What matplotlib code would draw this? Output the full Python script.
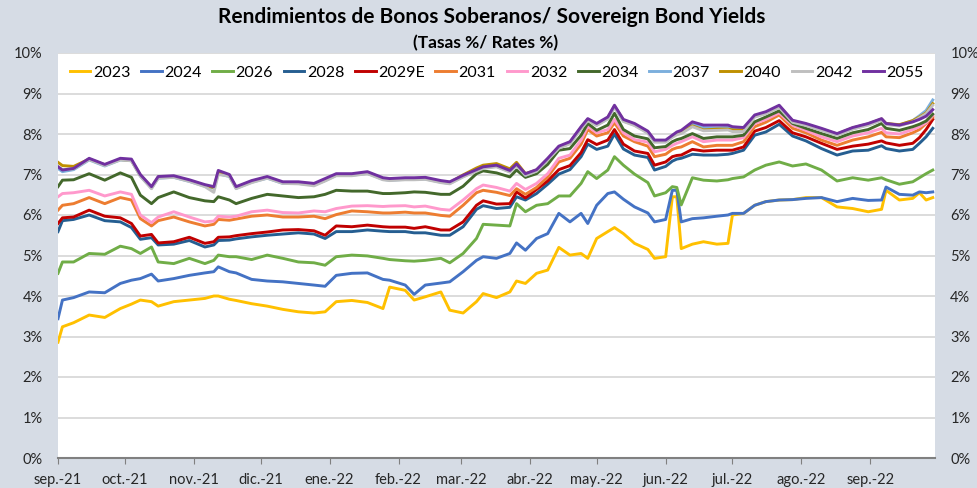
import matplotlib
matplotlib.use('Agg')
import matplotlib.pyplot as plt
import pandas as pd

plt.rcParams['font.family'] = ['Lato', 'DejaVu Sans']

date_strs = [
    '2021-09-01', '2021-09-03', '2021-09-08', '2021-09-15', '2021-09-22', '2021-09-29', '2021-10-04',
    '2021-10-08', '2021-10-13', '2021-10-16', '2021-10-23', '2021-10-30', '2021-11-06', '2021-11-10',
    '2021-11-12', '2021-11-17', '2021-11-20', '2021-11-27', '2021-12-04', '2021-12-11', '2021-12-18',
    '2021-12-25', '2021-12-30',
    '2022-01-04', '2022-01-11', '2022-01-18', '2022-01-25', '2022-01-28', '2022-02-04', '2022-02-08',
    '2022-02-13', '2022-02-20', '2022-02-24', '2022-03-02', '2022-03-08', '2022-03-11', '2022-03-17',
    '2022-03-23', '2022-03-26', '2022-03-30', '2022-04-04', '2022-04-09', '2022-04-14', '2022-04-19',
    '2022-04-24', '2022-04-27', '2022-05-01', '2022-05-06', '2022-05-09', '2022-05-13', '2022-05-18',
    '2022-05-24',
    '2022-05-27', '2022-06-01', '2022-06-04', '2022-06-06', '2022-06-08', '2022-06-13', '2022-06-18',
    '2022-06-24', '2022-06-29', '2022-07-01', '2022-07-06', '2022-07-11', '2022-07-16', '2022-07-22',
    '2022-07-28', '2022-08-03', '2022-08-10', '2022-08-17', '2022-08-24', '2022-08-31', '2022-09-06',
    '2022-09-08', '2022-09-14', '2022-09-20', '2022-09-23', '2022-09-26', '2022-09-29',
]

y2023 = [2.86, 3.24, 3.34, 3.53, 3.47, 3.69, 3.80, 3.90, 3.86, 3.75, 3.86, 3.90, 3.94, 4.00, 4.00, 3.92, 3.89, 3.81, 3.75, 3.67, 3.61, 3.58, 3.61,
         3.86, 3.89, 3.84, 3.69, 4.22, 4.14, 3.90, 3.98, 4.10, 3.65, 3.58, 3.86, 4.06, 3.96, 4.10, 4.37, 4.31, 4.56, 4.64, 5.20, 5.01, 5.05, 4.93, 5.42, 5.59, 5.69, 5.54, 5.30, 5.15,
         4.93, 4.97, 6.45, 6.45, 5.17, 5.28, 5.34, 5.28, 5.30, 6.00, 6.04, 6.24, 6.33, 6.37, 6.38, 6.43, 6.43, 6.20, 6.16, 6.08, 6.14, 6.61, 6.37, 6.41, 6.55, 6.37, 6.43]
y2024 = [3.44, 3.90, 3.96, 4.10, 4.08, 4.31, 4.39, 4.43, 4.54, 4.37, 4.43, 4.51, 4.57, 4.60, 4.72, 4.60, 4.57, 4.41, 4.37, 4.35, 4.31, 4.27, 4.24,
         4.51, 4.56, 4.57, 4.41, 4.39, 4.27, 4.04, 4.27, 4.32, 4.35, 4.60, 4.88, 4.97, 4.93, 5.05, 5.31, 5.13, 5.42, 5.54, 6.04, 5.83, 6.04, 5.79, 6.24, 6.53, 6.57, 6.39, 6.20, 6.05,
         5.83, 5.89, 6.61, 6.61, 5.83, 5.91, 5.93, 5.97, 6.00, 6.04, 6.04, 6.24, 6.33, 6.37, 6.38, 6.41, 6.43, 6.33, 6.41, 6.36, 6.37, 6.69, 6.51, 6.49, 6.57, 6.55, 6.57]
y2026 = [4.56, 4.84, 4.84, 5.05, 5.03, 5.23, 5.17, 5.05, 5.21, 4.84, 4.80, 4.93, 4.80, 4.88, 5.01, 4.97, 4.97, 4.90, 5.01, 4.93, 4.84, 4.82, 4.76,
         4.97, 5.01, 4.99, 4.93, 4.90, 4.87, 4.86, 4.88, 4.93, 4.82, 5.05, 5.42, 5.77, 5.75, 5.73, 6.28, 6.08, 6.24, 6.28, 6.47, 6.47, 6.78, 7.07, 6.90, 7.11, 7.44, 7.23, 7.01, 6.80,
         6.47, 6.55, 6.70, 6.68, 6.25, 6.92, 6.86, 6.84, 6.87, 6.90, 6.94, 7.11, 7.23, 7.31, 7.21, 7.26, 7.11, 6.84, 6.92, 6.86, 6.92, 6.87, 6.76, 6.82, 6.92, 7.02, 7.11]
y2028 = [5.59, 5.86, 5.89, 6.00, 5.86, 5.83, 5.69, 5.40, 5.44, 5.26, 5.28, 5.37, 5.21, 5.26, 5.37, 5.38, 5.41, 5.46, 5.50, 5.53, 5.56, 5.53, 5.42,
         5.59, 5.59, 5.63, 5.60, 5.59, 5.59, 5.56, 5.56, 5.50, 5.50, 5.71, 6.14, 6.23, 6.16, 6.19, 6.45, 6.37, 6.53, 6.76, 7.01, 7.12, 7.44, 7.75, 7.62, 7.70, 8.00, 7.63, 7.48, 7.42,
         7.11, 7.20, 7.33, 7.38, 7.40, 7.50, 7.48, 7.48, 7.50, 7.52, 7.60, 7.97, 8.05, 8.24, 7.95, 7.83, 7.64, 7.48, 7.58, 7.60, 7.71, 7.64, 7.58, 7.62, 7.77, 7.93, 8.14]
y2029e = [5.79, 5.93, 5.95, 6.12, 5.97, 5.93, 5.79, 5.48, 5.52, 5.31, 5.34, 5.45, 5.30, 5.34, 5.45, 5.46, 5.49, 5.54, 5.58, 5.63, 5.64, 5.61, 5.50,
          5.73, 5.71, 5.75, 5.71, 5.70, 5.70, 5.67, 5.71, 5.63, 5.63, 5.83, 6.24, 6.35, 6.27, 6.28, 6.57, 6.42, 6.63, 6.84, 7.12, 7.22, 7.54, 7.86, 7.74, 7.85, 8.11, 7.75, 7.58, 7.52,
          7.23, 7.31, 7.44, 7.47, 7.48, 7.62, 7.58, 7.60, 7.60, 7.60, 7.68, 8.07, 8.16, 8.33, 8.03, 7.93, 7.77, 7.62, 7.70, 7.75, 7.83, 7.78, 7.72, 7.77, 7.91, 8.11, 8.36]
y2031 = [6.12, 6.24, 6.28, 6.43, 6.28, 6.43, 6.37, 5.91, 5.73, 5.86, 5.95, 5.83, 5.73, 5.77, 5.89, 5.87, 5.90, 5.97, 6.00, 5.95, 5.95, 5.97, 5.91,
         6.01, 6.10, 6.08, 6.05, 6.05, 6.07, 6.05, 6.05, 5.99, 5.97, 6.24, 6.55, 6.61, 6.56, 6.48, 6.65, 6.51, 6.68, 6.94, 7.31, 7.40, 7.75, 8.11, 7.95, 8.03, 8.28, 7.95, 7.81, 7.70,
         7.44, 7.50, 7.62, 7.66, 7.68, 7.81, 7.68, 7.72, 7.72, 7.72, 7.81, 8.18, 8.29, 8.47, 8.14, 8.03, 7.85, 7.72, 7.85, 7.93, 8.04, 7.93, 7.91, 8.03, 8.11, 8.26, 8.42]
y2032 = [6.45, 6.53, 6.55, 6.61, 6.47, 6.57, 6.51, 6.00, 5.81, 5.95, 6.08, 5.95, 5.83, 5.85, 5.97, 5.95, 5.97, 6.08, 6.12, 6.06, 6.05, 6.10, 6.08,
         6.16, 6.22, 6.23, 6.21, 6.22, 6.23, 6.20, 6.22, 6.14, 6.12, 6.37, 6.65, 6.74, 6.68, 6.59, 6.78, 6.63, 6.78, 7.02, 7.40, 7.48, 7.85, 8.19, 8.03, 8.11, 8.36, 8.03, 7.86, 7.80,
         7.56, 7.62, 7.72, 7.77, 7.81, 7.93, 7.81, 7.85, 7.85, 7.85, 7.91, 8.26, 8.36, 8.52, 8.22, 8.09, 7.93, 7.81, 7.95, 8.03, 8.14, 8.03, 8.00, 8.11, 8.18, 8.28, 8.46]
y2034 = [6.70, 6.86, 6.87, 7.02, 6.86, 7.04, 6.93, 6.49, 6.28, 6.43, 6.57, 6.43, 6.35, 6.33, 6.45, 6.37, 6.28, 6.41, 6.51, 6.47, 6.43, 6.45, 6.51,
         6.61, 6.59, 6.59, 6.53, 6.53, 6.55, 6.57, 6.56, 6.51, 6.51, 6.71, 7.02, 7.09, 7.04, 6.94, 7.11, 6.93, 7.02, 7.25, 7.60, 7.64, 7.97, 8.26, 8.09, 8.22, 8.51, 8.11, 7.95, 7.88,
         7.66, 7.69, 7.81, 7.86, 7.89, 8.01, 7.89, 7.93, 7.93, 7.93, 7.97, 8.30, 8.42, 8.57, 8.26, 8.14, 8.01, 7.89, 8.03, 8.11, 8.26, 8.14, 8.09, 8.18, 8.24, 8.32, 8.49]
y2037 = [7.15, 7.07, 7.12, 7.36, 7.21, 7.36, 7.34, 6.96, 6.66, 6.91, 6.93, 6.83, 6.71, 6.66, 7.02, 6.95, 6.66, 6.81, 6.91, 6.78, 6.78, 6.74, 6.85,
         6.98, 6.98, 7.03, 6.88, 6.86, 6.88, 6.88, 6.89, 6.81, 6.78, 6.95, 7.10, 7.17, 7.20, 7.07, 7.24, 6.98, 7.09, 7.37, 7.66, 7.77, 8.14, 8.34, 8.22, 8.38, 8.67, 8.32, 8.22, 8.03,
         7.81, 7.81, 7.93, 8.01, 8.05, 8.25, 8.16, 8.15, 8.16, 8.12, 8.12, 8.43, 8.51, 8.67, 8.30, 8.22, 8.10, 7.98, 8.13, 8.23, 8.35, 8.25, 8.22, 8.33, 8.45, 8.58, 8.84]
y2040 = [7.30, 7.22, 7.20, 7.38, 7.24, 7.37, 7.35, 6.98, 6.68, 6.93, 6.95, 6.85, 6.73, 6.68, 7.05, 6.97, 6.68, 6.83, 6.93, 6.80, 6.79, 6.75, 6.86,
         7.00, 7.00, 7.05, 6.90, 6.89, 6.90, 6.90, 6.91, 6.83, 6.80, 6.99, 7.16, 7.23, 7.27, 7.14, 7.30, 7.02, 7.11, 7.38, 7.68, 7.79, 8.16, 8.36, 8.24, 8.40, 8.69, 8.34, 8.24, 8.05,
         7.83, 7.83, 7.95, 8.02, 8.05, 8.20, 8.10, 8.12, 8.12, 8.10, 8.10, 8.44, 8.53, 8.69, 8.32, 8.24, 8.12, 8.00, 8.15, 8.25, 8.37, 8.26, 8.23, 8.33, 8.42, 8.52, 8.75]
y2042 = [7.20, 7.12, 7.14, 7.37, 7.22, 7.36, 7.34, 6.96, 6.65, 6.91, 6.93, 6.83, 6.70, 6.56, 7.00, 6.96, 6.65, 6.80, 6.91, 6.78, 6.77, 6.72, 6.84,
         6.97, 6.97, 7.02, 6.87, 6.85, 6.87, 6.87, 6.88, 6.80, 6.77, 6.94, 7.08, 7.15, 7.19, 7.06, 7.22, 6.98, 7.08, 7.36, 7.65, 7.76, 8.13, 8.33, 8.21, 8.37, 8.66, 8.31, 8.21, 8.02,
         7.80, 7.80, 7.92, 7.98, 8.01, 8.18, 8.08, 8.09, 8.10, 8.06, 8.06, 8.42, 8.50, 8.66, 8.29, 8.21, 8.09, 7.97, 8.12, 8.22, 8.34, 8.23, 8.20, 8.30, 8.40, 8.50, 8.71]
y2055 = [7.19, 7.11, 7.15, 7.40, 7.25, 7.40, 7.38, 7.00, 6.70, 6.95, 6.97, 6.87, 6.75, 6.70, 7.10, 7.00, 6.70, 6.85, 6.95, 6.82, 6.82, 6.78, 6.90,
         7.02, 7.02, 7.07, 6.92, 6.90, 6.92, 6.92, 6.93, 6.85, 6.82, 6.98, 7.12, 7.19, 7.23, 7.10, 7.26, 7.02, 7.12, 7.40, 7.70, 7.81, 8.18, 8.38, 8.26, 8.42, 8.71, 8.36, 8.26, 8.07,
         7.85, 7.85, 7.97, 8.05, 8.09, 8.30, 8.22, 8.22, 8.22, 8.18, 8.16, 8.47, 8.55, 8.71, 8.34, 8.26, 8.14, 8.01, 8.16, 8.26, 8.38, 8.26, 8.22, 8.30, 8.36, 8.44, 8.60]

labels = ['2023', '2024', '2026', '2028', '2029E', '2031', '2032', '2034', '2037', '2040', '2042', '2055']
values = [y2023, y2024, y2026, y2028, y2029e, y2031, y2032, y2034, y2037, y2040, y2042, y2055]
colors = ['#FFC000', '#4472C4', '#70AD47', '#255E91', '#C00000', '#ED7D31',
          '#FF99CC', '#43682B', '#7CAFDD', '#BF9000', '#BFBFBF', '#7030A0']

month_labels = ['sep.-21', 'oct.-21', 'nov.-21', 'dic.-21', 'ene.-22', 'feb.-22', 'mar.-22',
                'abr.-22', 'may.-22', 'jun.-22', 'jul.-22', 'ago.-22', 'sep.-22']

dates = pd.to_datetime(date_strs)

fig = plt.figure(figsize=(9.78, 4.88), dpi=100, facecolor='#D6DCE5')
ax = fig.add_axes([58 / 978, 30 / 488, 877 / 978, 405 / 488])
ax.set_facecolor('white')

for lab, vals, col in zip(labels, values, colors):
    ax.plot(dates, vals, color=col, lw=2.1, label=lab, solid_joinstyle='round')

ax.set_ylim(0, 10)
ax.set_yticks(range(0, 11))
ax.set_yticklabels([f'{v}%' for v in range(0, 11)])
ax.set_xlim(pd.Timestamp('2021-09-01'), pd.Timestamp('2022-09-30'))
ax.set_xticks(pd.date_range('2021-09-01', periods=len(month_labels), freq='MS'))
ax.set_xticklabels(month_labels)

ax.grid(axis='y', color='#D9D9D9', lw=1.3)
ax.set_axisbelow(True)
for s in ['left', 'right', 'top']:
    ax.spines[s].set_visible(False)
ax.spines['bottom'].set_color('#808080')
ax.spines['bottom'].set_linewidth(1.5)

ax.tick_params(axis='y', length=0, labelleft=True, labelright=True, pad=11,
               labelsize=10.5, labelcolor='#262626')
ax.tick_params(axis='x', direction='out', length=4, color='#808080', pad=7,
               labelsize=10.5, labelcolor='#262626')

ax.legend(ncol=12, loc='center', bbox_to_anchor=(0.5, 0.951), frameon=False,
          fontsize=11.5, handlelength=1.3, handletextpad=0.15, columnspacing=0.67,
          borderpad=0.2)

fig.text(0.503, 0.965, 'Rendimientos de Bonos Soberanos/ Sovereign Bond Yields',
         ha='center', va='center', fontsize=15, fontweight='bold')
fig.text(0.496, 0.912, '(Tasas %/ Rates %)', ha='center', va='center',
         fontsize=12.5, fontweight='bold')

fig.savefig('out.png', dpi=100, facecolor=fig.get_facecolor())
